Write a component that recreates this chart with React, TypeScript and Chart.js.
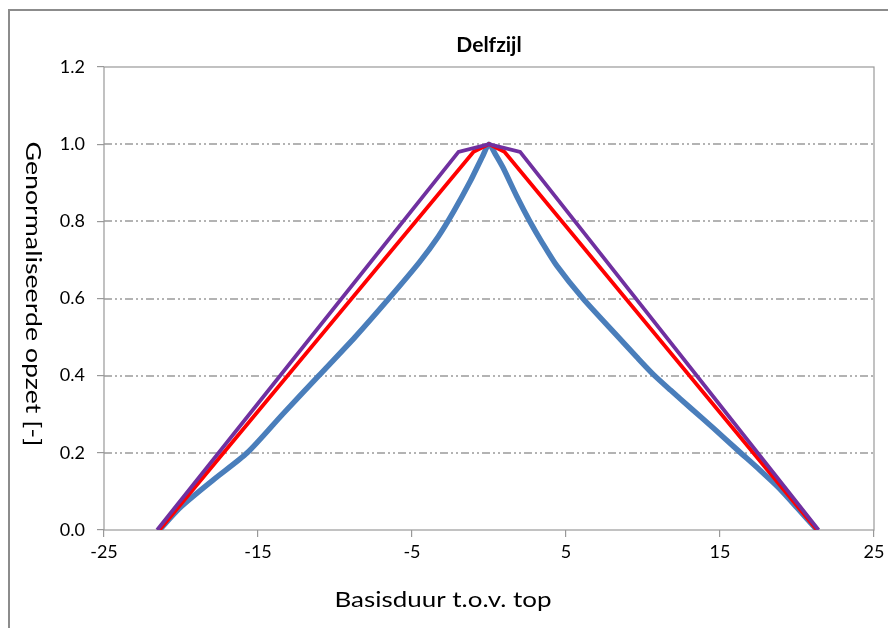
import React, { useEffect, useRef } from "react";
import { Chart, registerables } from "chart.js";

Chart.register(...registerables);

const TITLE = "Delfzijl";
const X_TITLE = "Basisduur t.o.v. top";
const Y_TITLE = "Genormaliseerde opzet [-]";

const X_TICKS = [-25, -15, -5, 5, 15, 25];
const Y_TICKS = [0, 0.2, 0.4, 0.6, 0.8, 1.0, 1.2];
const GRID_VALUES = [0.2, 0.4, 0.6, 0.8, 1.0];

const blueX = [-21.4, -20.0, -17.9, -15.7, -13.4, -11.05, -8.7, -6.5, -4.5, -3.3, -2.3, -1.2, -0.4, 0,
  0.4, 0.9, 1.8, 2.65, 3.45, 4.4, 6.1, 8.4, 9.6, 10.7, 11.8, 13.1, 14.6, 16.2, 17.6, 18.8, 20.0, 21.3];
const blueY = [0, 0.06, 0.13, 0.2, 0.3, 0.4, 0.5, 0.6, 0.695, 0.76, 0.825, 0.905, 0.97, 1,
  0.975, 0.94, 0.865, 0.8, 0.745, 0.685, 0.6, 0.5, 0.448, 0.402, 0.362, 0.316, 0.263, 0.205, 0.155, 0.11, 0.058, 0];

const redX = [-21.4, -1.0, 0, 1.0, 21.3];
const redY = [0, 0.98, 1, 0.98, 0];

const purpleX = [-21.55, -1.98, 0, 2.02, 21.4];
const purpleY = [0, 0.98, 1, 0.98, 0];

const toPoints = (xs: number[], ys: number[]) => xs.map((x, i) => ({ x, y: ys[i] }));

const FONT = "Lato, 'Open Sans', sans-serif";

function fitText(ctx: CanvasRenderingContext2D, text: string, target: number) {
  const w = ctx.measureText(text).width;
  const sx = target / w;
  ctx.scale(sx, 1);
  ctx.fillText(text, 0, 0);
}

const decorPlugin = {
  id: "decor",
  beforeDatasetsDraw(chart: any) {
    const { ctx, chartArea: a, scales } = chart;
    const y = scales.y;
    ctx.save();
    ctx.strokeStyle = "#9a9a9a";
    ctx.lineWidth = 1.5;
    ctx.setLineDash([8, 3, 2, 3, 2, 3]);
    GRID_VALUES.forEach((v) => {
      const py = Math.round(y.getPixelForValue(v));
      ctx.beginPath();
      ctx.moveTo(a.left, py);
      ctx.lineTo(a.right, py);
      ctx.stroke();
    });
    ctx.setLineDash([]);
    ctx.lineWidth = 1.2;
    ctx.strokeStyle = "#999999";
    ctx.strokeRect(a.left, a.top, a.right - a.left, a.bottom - a.top);
    ctx.restore();
  },
  afterDraw(chart: any) {
    const { ctx, chartArea: a } = chart;
    ctx.save();
    ctx.strokeStyle = "#8c8c8c";
    ctx.lineWidth = 2;
    ctx.beginPath();
    ctx.moveTo(1, chart.height);
    ctx.lineTo(1, 2);
    ctx.lineTo(chart.width, 2);
    ctx.stroke();
    ctx.fillStyle = "#000";
    ctx.textAlign = "center";
    ctx.textBaseline = "middle";
    ctx.font = `bold 21px ${FONT}`;
    ctx.fillText(TITLE, (a.left + a.right) / 2, 37);

    ctx.save();
    ctx.font = `22px ${FONT}`;
    ctx.translate(435, 592);
    fitText(ctx, X_TITLE, 217);
    ctx.restore();

    ctx.save();
    ctx.font = `22px ${FONT}`;
    ctx.translate(25, 286);
    ctx.rotate(Math.PI / 2);
    fitText(ctx, Y_TITLE, 305);
    ctx.restore();
    ctx.restore();
  },
};

export default function App() {
  const ref = useRef<HTMLCanvasElement | null>(null);
  useEffect(() => {
    if (!ref.current) return;
    const chart = new Chart(ref.current, {
      type: "line",
      data: {
        datasets: [
          {
            label: "purple",
            data: toPoints(purpleX, purpleY),
            borderColor: "#7030A0",
            borderWidth: 3.8,
            pointRadius: 0,
            tension: 0,
          },
          {
            label: "red",
            data: toPoints(redX, redY),
            borderColor: "#FF0000",
            borderWidth: 3.8,
            pointRadius: 0,
            tension: 0,
          },
          {
            label: "blue",
            data: toPoints(blueX, blueY),
            borderColor: "#4A7EBB",
            borderWidth: 5.5,
            pointRadius: 0,
            tension: 0.25,
          },
        ],
      },
      options: {
        animation: false,
        responsive: false,
        layout: { padding: { left: 0, top: 59, right: 22, bottom: 0 } },
        plugins: { legend: { display: false }, title: { display: false }, tooltip: { enabled: false } },
        scales: {
          x: {
            type: "linear",
            min: -25,
            max: 25,
            afterBuildTicks: (s: any) => {
              s.ticks = X_TICKS.map((v) => ({ value: v }));
            },
            afterFit: (s: any) => {
              s.height = 98;
            },
            border: { display: false },
            grid: { drawOnChartArea: false, drawTicks: true, tickLength: 7, tickColor: "#999999", lineWidth: 1.2 },
            ticks: { color: "#000", font: { family: FONT, size: 18 }, padding: 4, maxRotation: 0, autoSkip: false },
          },
          y: {
            type: "linear",
            min: 0,
            max: 1.2,
            afterBuildTicks: (s: any) => {
              s.ticks = Y_TICKS.map((v) => ({ value: v }));
            },
            afterFit: (s: any) => {
              s.width = 96;
            },
            border: { display: false },
            grid: { drawOnChartArea: false, drawTicks: true, tickLength: 7, tickColor: "#999999", lineWidth: 1.2 },
            ticks: {
              color: "#000",
              font: { family: FONT, size: 18 },
              padding: 12,
              autoSkip: false,
              callback: (v: any) => Number(v).toFixed(1),
            },
          },
        },
      },
      plugins: [decorPlugin],
    });
    return () => chart.destroy();
  }, []);
  return <canvas ref={ref} width={888} height={620} style={{ display: "block" }} />;
}
